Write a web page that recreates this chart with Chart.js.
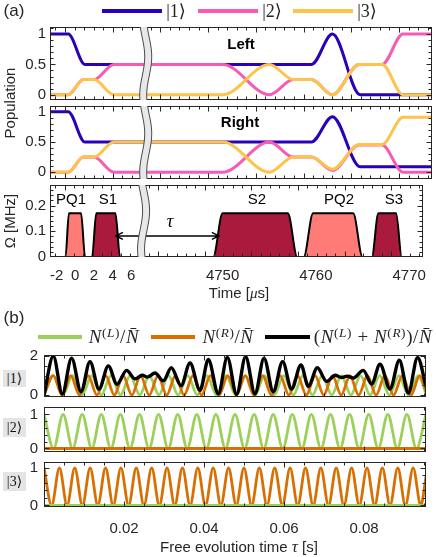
<!DOCTYPE html>
<html><head><meta charset="utf-8">
<script src="https://cdn.jsdelivr.net/npm/chart.js@4.4.1/dist/chart.umd.min.js"></script>
<style>
html,body{margin:0;padding:0;background:#fff}
body{width:436px;height:557px;position:relative;overflow:hidden;font-family:"Liberation Sans",Arial,sans-serif;color:#262626}
canvas{position:absolute;left:0;z-index:1}
.t{position:absolute;white-space:nowrap;line-height:1;z-index:3;transform:translate(-50%,-50%)}
.r{transform:translate(-50%,-50%) rotate(-90deg)}
.sw{position:absolute;z-index:3}
.m{font-family:"Liberation Serif","DejaVu Serif",serif}
.box{position:absolute;background:#e4e4e4;z-index:3;display:flex;align-items:center;justify-content:center;font-family:"Liberation Serif","DejaVu Serif",serif;font-size:14px;color:#111}
sup{font-size:70%;vertical-align:0.45em;line-height:0}
</style></head><body>
<canvas id="a1"></canvas><canvas id="a2"></canvas><canvas id="a3"></canvas>
<canvas id="b1"></canvas><canvas id="b2"></canvas><canvas id="b3"></canvas>

<div class="t" style="left:14px;top:10px;font-size:17px">(a)</div>
<div class="sw" style="left:102px;top:9px;width:60px;height:4px;background:#2a00b8"></div>
<div class="t m" style="left:176px;top:11px;font-size:18px">|1⟩</div>
<div class="sw" style="left:198px;top:9px;width:60px;height:4px;background:#f95ab3"></div>
<div class="t m" style="left:272px;top:11px;font-size:18px">|2⟩</div>
<div class="sw" style="left:293px;top:9px;width:60px;height:4px;background:#fdc44b"></div>
<div class="t m" style="left:367px;top:11px;font-size:18px">|3⟩</div>

<div class="t" style="left:241px;top:43px;font-size:15px;font-weight:bold;color:#000">Left</div>
<div class="t" style="left:240px;top:121px;font-size:15px;font-weight:bold;color:#000">Right</div>
<div class="t r" style="left:9px;top:103px;font-size:15px">Population</div>
<div class="t r" style="left:9px;top:221px;font-size:15px">Ω  [MHz]</div>
<div class="t" style="left:71px;top:198px;font-size:15px;color:#000">PQ1</div>
<div class="t" style="left:108px;top:198px;font-size:15px;color:#000">S1</div>
<div class="t" style="left:257px;top:198px;font-size:15px;color:#000">S2</div>
<div class="t" style="left:339px;top:198px;font-size:15px;color:#000">PQ2</div>
<div class="t" style="left:394px;top:198px;font-size:15px;color:#000">S3</div>
<div class="t m" style="left:170px;top:221px;font-size:18px;font-style:italic;color:#000">τ</div>
<div class="t" style="left:239px;top:293px;font-size:15px">Time  [<span class="m" style="font-style:italic">μ</span>s]</div>

<div class="t" style="left:14px;top:317px;font-size:17px">(b)</div>
<div class="sw" style="left:38px;top:335px;width:44px;height:3.5px;background:#9bd05a"></div>
<div class="t m" style="left:114px;top:336px;font-size:19px;letter-spacing:0.6px"><i>N</i><sup>(<i>L</i>)</sup>/<i>N̄</i></div>
<div class="sw" style="left:151px;top:335px;width:44px;height:3.5px;background:#d86f00"></div>
<div class="t m" style="left:228px;top:336px;font-size:19px;letter-spacing:0.6px"><i>N</i><sup>(<i>R</i>)</sup>/<i>N̄</i></div>
<div class="sw" style="left:265px;top:334.5px;width:45px;height:4px;background:#000"></div>
<div class="t m" style="left:373px;top:336px;font-size:19px;letter-spacing:0.6px">(<i>N</i><sup>(<i>L</i>)</sup> + <i>N</i><sup>(<i>R</i>)</sup>)/<i>N̄</i></div>
<div class="box" style="left:3px;top:370px;width:23px;height:17px">|1⟩</div>
<div class="box" style="left:3px;top:418px;width:23px;height:19px">|2⟩</div>
<div class="box" style="left:3px;top:472px;width:23px;height:19px">|3⟩</div>
<div class="t" style="left:239px;top:546px;font-size:15px">Free evolution time <span class="m" style="font-style:italic;font-size:17px">τ</span>  [s]</div>

<script>
// ---------------- Panel (a) data (time in microseconds) ----------------
const timeTickLabels = [-2, 0, 2, 4, 6, 4750, 4760, 4770];
const popTicks = [0, 0.5, 1];
const omegaTicks = [0, 0.1, 0.2];

const leftBlue   = [[-3,1],[-0.8,1],[0.95,0.5],[4758.9,0.5],[4761.1,1],[4764.0,0],[4772,0]];
const leftPink   = [[-3,0],[-0.8,0],[0.8,0.25],[1.9,0.25],[4.0,0.5],[4749.6,0.5],[4754.5,0],[4757.0,0.25],[4758.9,0.25],[4761.1,0],[4763.9,0.5],[4766.3,0.5],[4768.5,1],[4772,1]];
const leftYellow = [[-3,0],[-0.8,0],[0.8,0.25],[1.9,0.25],[4.0,0],[4749.6,0],[4754.5,0.5],[4757.0,0.25],[4758.9,0.25],[4761.1,0],[4763.9,0.5],[4766.3,0.5],[4768.5,0],[4772,0]];

const rightBlue   = [[-3,1],[-0.8,1],[0.95,0.5],[4758.9,0.5],[4761.1,0.92],[4764.0,0.09],[4772,0.09]];
const rightPink   = [[-3,0],[-0.8,0],[0.8,0.25],[1.9,0.25],[4.0,0],[4749.6,0],[4754.5,0.5],[4757.0,0.25],[4758.9,0.25],[4761.1,0.03],[4763.9,0.45],[4766.3,0.45],[4768.5,0],[4772,0]];
const rightYellow = [[-3,0],[-0.8,0],[0.8,0.25],[1.9,0.25],[4.0,0.5],[4749.6,0.5],[4754.5,0],[4757.0,0.25],[4758.9,0.25],[4761.1,0.05],[4763.9,0.46],[4766.3,0.46],[4768.5,0.91],[4772,0.91]];

const pulsePQ1 = [[-1.6,0],[-1.05,0],[-0.68,0.17],[0.62,0.17],[1.05,0],[1.5,0]];
const pulseS1  = [[1.4,0],[1.8,0],[2.25,0.17],[4.3,0.17],[4.8,0],[5.4,0]];
const pulseS2  = [[4748.3,0],[4749.0,0],[4750.0,0.17],[4757.0,0.17],[4758.0,0],[4758.4,0]];
const pulsePQ2 = [[4758.3,0],[4758.7,0],[4759.7,0.17],[4764.0,0.17],[4765.0,0],[4765.5,0]];
const pulseS3  = [[4765.5,0],[4766.0,0],[4766.7,0.17],[4768.6,0.17],[4769.2,0],[4769.8,0]];
const tauArrow = [4.35, 4749.6];   // free-evolution arrow ends (us)
const tauLevel = 0.082;

// ---------------- Panel (b) data (tau in seconds) ----------------
const tauTicks = [0.02, 0.04, 0.06, 0.08];
// |1> row
const g1X = [0,0.00233,0.00473,0.00713,0.00953,0.01193,0.01433,0.01673,0.01913,0.02153,0.02393,0.02633,0.02873,0.03113,0.03353,0.03593,0.03833,0.04073,0.04313,0.04553,0.04793,0.05033,0.05273,0.05513,0.05753,0.05993,0.06233,0.06473,0.06713,0.06953,0.07193,0.07433,0.07673,0.07913,0.08153,0.08393,0.08633,0.08873,0.09113,0.09353,0.0955];
const g1Y = [0,1,0,1,0,1,0,1,0,1,0,1,0,1,0,1,0,1,0,1,0,1,0,1,0,1,0,1,0,1,0,1,0,1,0,1,0,1,0,1,0.08];
const o1X = [0,0.00233,0.00451,0.00669,0.00887,0.01105,0.01323,0.01541,0.01759,0.01978,0.02196,0.02414,0.02632,0.0285,0.03068,0.03286,0.03504,0.03723,0.03941,0.04159,0.04377,0.04595,0.04813,0.05031,0.05249,0.05468,0.05686,0.05904,0.06122,0.0634,0.06558,0.06776,0.06994,0.07213,0.07431,0.07649,0.07867,0.08085,0.08303,0.08521,0.08739,0.08958,0.09176,0.09394,0.0955];
const o1Y = [0.01,1,0,1,0,1,0,1,0,1,0,1,0,1,0,1,0,1,0,1,0,1,0,1,0,1,0,1,0,1,0,1,0,1,0,1,0,1,0,1,0,1,0,1,0.18];
const sumX = [0,0.00233,0.00458,0.0069,0.00925,0.0115,0.01375,0.01608,0.01825,0.02065,0.02275,0.02458,0.02583,0.02775,0.02983,0.03183,0.03425,0.0365,0.039,0.04108,0.04358,0.04583,0.04815,0.0504,0.05275,0.055,0.05733,0.05965,0.0619,0.06425,0.06608,0.06833,0.07065,0.07283,0.07433,0.07583,0.07733,0.07983,0.0819,0.084,0.0865,0.08883,0.09108,0.0934,0.0955];
const sumY = [0,2,0.05,1.9,0.17,1.72,0.3,1.5,0.55,1.27,0.83,1.02,0.92,1.13,0.73,1.4,0.48,1.65,0.24,1.83,0.06,1.94,0.03,1.97,0.06,1.89,0.17,1.72,0.31,1.55,0.45,1.4,0.7,1.02,0.9,0.97,0.87,1.27,0.56,1.58,0.31,1.79,0.1,1.93,0.45];
// |2> row
const g2X = [0,0.00239,0.00478,0.00716,0.00955,0.01194,0.01433,0.01671,0.0191,0.02149,0.02388,0.02626,0.02865,0.03104,0.03343,0.03581,0.0382,0.04059,0.04298,0.04536,0.04775,0.05014,0.05253,0.05491,0.0573,0.05969,0.06208,0.06446,0.06685,0.06924,0.07163,0.07401,0.0764,0.07879,0.08118,0.08356,0.08595,0.08834,0.09073,0.09311,0.0955];
const g2Y = [1,0,1,0,1,0,1,0,1,0,1,0,1,0,1,0,1,0,1,0,1,0,1,0,1,0,1,0,1,0,1,0,1,0,1,0,1,0,1,0,1];
const o2X = [0, 0.0955];
const o2Y = [0, 0];
// |3> row
const o3X = [0,0.00192,0.00385,0.00577,0.00769,0.00961,0.01154,0.01346,0.01538,0.0173,0.01923,0.02115,0.02307,0.02499,0.02692,0.02884,0.03076,0.03268,0.03461,0.03653,0.03845,0.04037,0.0423,0.04422,0.04614,0.04806,0.04999,0.05191,0.05383,0.05575,0.05768,0.0596,0.06152,0.06344,0.06537,0.06729,0.06921,0.07113,0.07306,0.07498,0.0769,0.07882,0.08075,0.08267,0.08459,0.08651,0.08844,0.09036,0.09228,0.0942,0.0955];
const o3Y = [1,0,1,0,1,0,1,0,1,0,1,0,1,0,1,0,1,0,1,0,1,0,1,0,1,0,1,0,1,0,1,0,1,0,1,0,1,0,1,0,1,0,1,0,1,0,1,0,1,0,0.76];
const g3X = [0, 0.0955];
const g3Y = [0, 0];

// ---------------- styling ----------------
const FONT = '"Liberation Sans", Arial, sans-serif';
const AX = '#262626';
const C_BLUE = '#2a00b8', C_PINK = '#f95ab3', C_YEL = '#fdc44b';
const C_GREEN = '#9bd05a', C_ORANGE = '#d86f00';
const C_PQ = '#ff7b78', C_S = '#a91a3d';

// broken time axis: compress the gap between ~7 us and ~4743 us
const GAP = 4734.21;
const brk = t => (t < 100 ? t : t - GAP);
const pa = arr => arr.map(([t, p]) => ({ x: brk(t), y: p }));
const xy = (X, Y) => X.map((x, i) => ({ x, y: Y[i] }));

function line(data, color, w) {
  return { data, borderColor: color, borderWidth: w, pointRadius: 0, fill: false,
           cubicInterpolationMode: 'monotone', borderCapStyle: 'round', borderJoinStyle: 'round' };
}
function pulse(data, color) {
  return { data, borderColor: '#000', borderWidth: 2, backgroundColor: color, pointRadius: 0,
           fill: 'origin', cubicInterpolationMode: 'monotone' };
}
function range(a, b, s) { const r = []; for (let v = a; v <= b + 1e-9; v += s) r.push(+v.toFixed(6)); return r; }

// frame + inward ticks plugin
function framePlugin(o) {
  return { id: 'frame', afterDatasetsDraw(chart) {
    const { ctx, chartArea: a, scales: { x, y } } = chart;
    ctx.save();
    ctx.strokeStyle = AX; ctx.lineWidth = 1;
    ctx.beginPath();
    const L = Math.round(a.left) + 0.5, R = Math.round(a.right) - 0.5, T = Math.round(a.top) + 0.5, B = Math.round(a.bottom) - 0.5;
    const xt = (vals, len) => vals.forEach(v => { const p = Math.round(x.getPixelForValue(v)) + 0.5; if (p < L || p > R) return;
      ctx.moveTo(p, T); ctx.lineTo(p, T + len); ctx.moveTo(p, B); ctx.lineTo(p, B - len); });
    const yt = (vals, len) => vals.forEach(v => { const p = Math.round(y.getPixelForValue(v)) + 0.5; if (p < T || p > B) return;
      ctx.moveTo(L, p); ctx.lineTo(L + len, p); ctx.moveTo(R, p); ctx.lineTo(R - len, p); });
    xt(o.xMinor || [], 3); xt(o.xMajor || [], 5); yt(o.yMinor || [], 3); yt(o.yMajor || [], 5);
    ctx.stroke();
    ctx.strokeRect(L, T, R - L, B - T);
    ctx.restore();
  } };
}
// axis break symbol (wavy band)
function breakPlugin(pageOffset) {
  return { id: 'brk', afterDraw(chart) {
    const { ctx, chartArea: a, scales: { x } } = chart;
    const cx = x.getPixelForValue(7.32);
    const c = yy => cx + 2.5 * Math.sin(2 * Math.PI * (yy + pageOffset - 37.45) / 77);
    const hw = 3.5, t0 = a.top, t1 = a.bottom;
    ctx.save();
    ctx.beginPath();
    for (let yy = t0; yy <= t1; yy++) ctx.lineTo(c(yy) - hw, yy);
    for (let yy = t1; yy >= t0; yy--) ctx.lineTo(c(yy) + hw, yy);
    ctx.closePath();
    ctx.fillStyle = '#e8e8e8'; ctx.fill();
    ctx.strokeStyle = '#4a4a4a'; ctx.lineWidth = 1;
    ctx.beginPath(); for (let yy = t0; yy <= t1; yy++) ctx.lineTo(c(yy) - hw, yy); ctx.stroke();
    ctx.beginPath(); for (let yy = t0; yy <= t1; yy++) ctx.lineTo(c(yy) + hw, yy); ctx.stroke();
    ctx.restore();
  } };
}
const arrowPlugin = { id: 'tauArrow', afterDatasetsDraw(chart) {
  const { ctx, scales: { x, y } } = chart;
  const x1 = x.getPixelForValue(brk(tauArrow[0])), x2 = x.getPixelForValue(brk(tauArrow[1]));
  const yy = y.getPixelForValue(tauLevel);
  ctx.save(); ctx.strokeStyle = '#000'; ctx.lineWidth = 1.5;
  ctx.beginPath(); ctx.moveTo(x1, yy); ctx.lineTo(x2, yy);
  ctx.moveTo(x1 + 7, yy - 3.5); ctx.lineTo(x1, yy); ctx.lineTo(x1 + 7, yy + 3.5);
  ctx.moveTo(x2 - 7, yy - 3.5); ctx.lineTo(x2, yy); ctx.lineTo(x2 - 7, yy + 3.5);
  ctx.stroke(); ctx.restore();
} };

function makeChart(id, o) {
  const cv = document.getElementById(id);
  const axisH = o.xLabels ? o.axisH : 0;
  const padB = o.xLabels ? 0 : 10;
  cv.width = 436; cv.height = 10 + (o.bottom - o.top) + axisH + padB;
  cv.style.top = (o.top - 10) + 'px';
  const tickFont = { family: FONT, size: 15 };
  const plugins = [framePlugin(o.frame)];
  if (o.brk) plugins.push(breakPlugin(o.top - 10));
  if (o.arrow) plugins.push(arrowPlugin);
  return new Chart(cv, {
    type: 'line',
    data: { datasets: o.datasets },
    options: {
      animation: false, responsive: false, devicePixelRatio: 1, events: [],
      layout: { padding: { top: 10, bottom: padB, left: 0, right: 436 - o.right } },
      plugins: { legend: { display: false }, tooltip: { enabled: false } },
      scales: {
        x: { type: 'linear', min: o.xmin, max: o.xmax, display: !!o.xLabels,
             grid: { display: false, drawTicks: false }, border: { display: false },
             afterFit: s => { s.height = axisH; },
             afterBuildTicks: s => { if (o.xLabels) s.ticks = o.xLabels.map(l => ({ value: l.v })); },
             ticks: { autoSkip: false, maxRotation: 0, minRotation: 0, padding: o.xPad || 6, font: tickFont, color: AX,
                      callback: (v, i) => (o.xLabels ? o.xLabels[i].t : '') } },
        y: { type: 'linear', min: o.ymin, max: o.ymax,
             grid: { display: false, drawTicks: false }, border: { display: false },
             afterFit: s => { s.width = o.left; },
             afterBuildTicks: s => { s.ticks = o.yTicks.map(v => ({ value: v })); },
             ticks: { padding: o.yPad || 4, font: tickFont, color: AX, callback: v => String(v) } }
      }
    },
    plugins
  });
}

// tick marks of the broken time axis (in compressed axis units)
const xMinA = -2.71, xMaxA = 37.32;
const aMinor = range(-2.14, 37.3, 1);
const aMajor = [-1.14, 3.86, 8.86, 13.86, 18.86, 23.86, 28.86, 33.86];
const popFrame = { xMinor: aMinor, xMajor: aMajor, yMinor: range(-0.1, 1.1, 0.1), yMajor: popTicks };

// datasets listed top-most first (Chart.js paints dataset 0 last)
makeChart('a1', { top: 24, bottom: 103, left: 50, right: 432, xmin: xMinA, xmax: xMaxA, ymin: -0.087, ymax: 1.117,
  yTicks: popTicks, frame: popFrame, brk: true,
  datasets: [line(pa(leftYellow), C_YEL, 3), line(pa(leftPink), C_PINK, 3), line(pa(leftBlue), C_BLUE, 3)] });
makeChart('a2', { top: 103, bottom: 182, left: 50, right: 432, xmin: xMinA, xmax: xMaxA, ymin: -0.112, ymax: 1.096,
  yTicks: popTicks, frame: popFrame, brk: true,
  datasets: [line(pa(rightYellow), C_YEL, 3), line(pa(rightPink), C_PINK, 3), line(pa(rightBlue), C_BLUE, 3)] });
makeChart('a3', { top: 182, bottom: 257, left: 50, right: 432, xmin: xMinA, xmax: xMaxA, ymin: 0, ymax: 0.28,
  yTicks: omegaTicks, frame: { xMinor: aMinor, xMajor: aMajor, yMinor: range(0, 0.28, 0.02), yMajor: omegaTicks },
  brk: true, arrow: true, axisH: 30, xPad: 10,
  xLabels: timeTickLabels.map(t => ({ v: brk(t), t: String(t) })),
  datasets: [pulse(pa(pulsePQ1), C_PQ), pulse(pa(pulseS1), C_S), pulse(pa(pulseS2), C_S), pulse(pa(pulsePQ2), C_PQ), pulse(pa(pulseS3), C_S)] });

const bxMinor = range(0.005, 0.095, 0.005);
makeChart('b1', { top: 350, bottom: 402, left: 44, right: 426, xmin: 0, xmax: 0.0955, ymin: -0.104, ymax: 2.06,
  yTicks: [0, 2], yPad: 6, frame: { xMinor: bxMinor, xMajor: tauTicks, yMinor: [0.5, 1, 1.5], yMajor: [0, 2] },
  datasets: [line(xy(sumX, sumY), '#000', 3.4), line(xy(o1X, o1Y), C_ORANGE, 2.8), line(xy(g1X, g1Y), C_GREEN, 2.8)] });
makeChart('b2', { top: 402, bottom: 457, left: 44, right: 426, xmin: 0, xmax: 0.0955, ymin: -0.103, ymax: 1.216,
  yTicks: [0, 1], yPad: 6, frame: { xMinor: bxMinor, xMajor: tauTicks, yMinor: range(0.2, 0.8, 0.2), yMajor: [0, 1] },
  datasets: [line(xy(o2X, o2Y), C_ORANGE, 2.8), line(xy(g2X, g2Y), C_GREEN, 2.8)] });
makeChart('b3', { top: 457, bottom: 507, left: 44, right: 426, xmin: 0, xmax: 0.0955, ymin: -0.043, ymax: 1.156,
  yTicks: [0, 1], yPad: 6, frame: { xMinor: bxMinor, xMajor: tauTicks, yMinor: range(0.2, 0.8, 0.2), yMajor: [0, 1] },
  axisH: 30, xPad: 13, xLabels: tauTicks.map(v => ({ v, t: String(v) })),
  datasets: [line(xy(g3X, g3Y), C_GREEN, 2.8), line(xy(o3X, o3Y), C_ORANGE, 2.8)] });
</script>
</body></html>
